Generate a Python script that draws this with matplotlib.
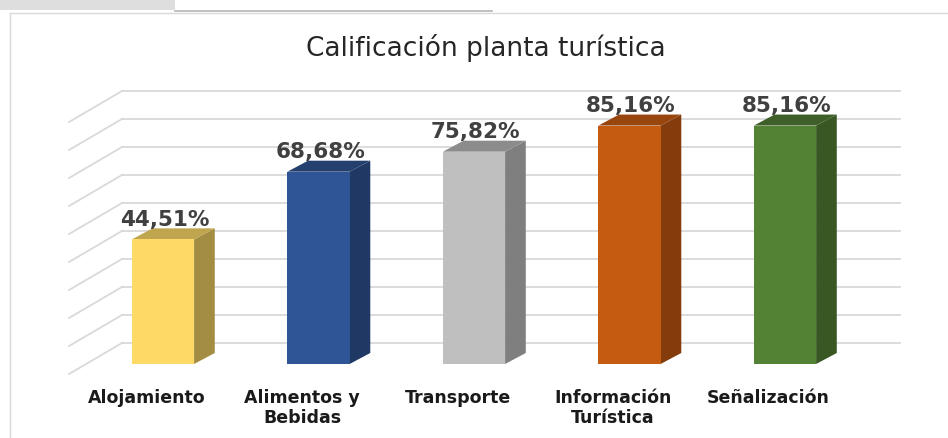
import numpy as np
import matplotlib.pyplot as plt
from matplotlib.patches import Polygon, Rectangle
from matplotlib.lines import Line2D

plt.rcParams['font.family'] = ['DejaVu Sans']

# --- Data ---
categories = ["Alojamiento", "Alimentos y\nBebidas", "Transporte", "Información\nTurística", "Señalización"]
values = [44.51, 68.68, 75.82, 85.16, 85.16]
front_colors = ["#FFD966", "#2F5597", "#BFBFBF", "#C55A11", "#548235"]
side_colors = ["#A38D42", "#203864", "#7F7F7F", "#843C0C", "#385723"]
top_colors = ["#BFA54E", "#25406F", "#8C8C8C", "#98460E", "#3E5F27"]
grid_ticks = list(range(0, 100, 10))
title = "Calificación planta turística"

# --- Figure / pixel mapping ---
W, H = 948, 438
fig = plt.figure(figsize=(W / 100, H / 100), dpi=100)
ax = fig.add_axes([0, 0, 1, 1])
px_cat, px_unit = 155.5, 2.8      # pixels per category / per value unit
x0, y0 = 163, 364                 # pixel of first bar centre, zero line
ax.set_xlim(-x0 / px_cat, (W - x0) / px_cat)
ax.set_ylim(-(H - y0) / px_unit, y0 / px_unit)
ax.axis('off')

bar_w = 0.4
dep_x, dep_y = 0.133, 3.93        # bar depth offset
wall_y = 7.5                      # back wall offset
wall_left, wall_right = -0.264, 4.74
side_dx, side_dy = -0.34, -11.07  # left wall diagonal

# --- Back wall grid + left diagonals ---
for t in grid_ticks:
    yb = t + wall_y
    ax.plot([wall_left, wall_right], [yb, yb], color="#d9d9d9", lw=1.3, zorder=1)
    ax.plot([wall_left + side_dx, wall_left], [yb + side_dy, yb], color="#d9d9d9", lw=1.3, zorder=1)

# --- 3D-looking bars ---
x = np.arange(len(categories))
ax.bar(x, values, width=bar_w, bottom=0, color=front_colors, zorder=3, linewidth=0)
for i, v in enumerate(values):
    l, r = i - bar_w / 2, i + bar_w / 2
    side = Polygon([(r, 0), (r + dep_x, dep_y), (r + dep_x, v + dep_y), (r, v)],
                   closed=True, facecolor=side_colors[i], edgecolor='none', zorder=2)
    top = Polygon([(l, v), (l + dep_x, v + dep_y), (r + dep_x, v + dep_y), (r, v)],
                  closed=True, facecolor=top_colors[i], edgecolor='none', zorder=2)
    ax.add_patch(side)
    ax.add_patch(top)
    label = f"{v:.2f}".replace('.', ',') + '%'
    ax.text(i + 0.01, v + dep_y + 0.9, label, ha='center', va='baseline',
            fontsize=15.5, fontweight='bold', color="#404040", zorder=4)
    ax.text(i - 0.105, -9.0, categories[i], ha='center', va='top',
            fontsize=12.5, fontweight='bold', color="#1a1a1a", linespacing=1.15)

# --- Title ---
fig.text(486 / W, 1 - 56 / H, title, ha='center', va='baseline',
         fontsize=19, color="#262626")

# --- Frame decorations ---
fig.patches.append(Rectangle((0, 1 - 10 / H), 175 / W, 10 / H, transform=fig.transFigure,
                             facecolor="#dedede", edgecolor='none'))
fig.lines.append(Line2D([175 / W, 492 / W], [1 - 10.5 / H, 1 - 10.5 / H], transform=fig.transFigure,
                        color="#b4b4b4", lw=1.2))
fig.lines.append(Line2D([10 / W, 1], [1 - 12.5 / H, 1 - 12.5 / H], transform=fig.transFigure,
                        color="#d9d9d9", lw=1.0))
fig.lines.append(Line2D([10 / W, 10 / W], [0, 1 - 12.5 / H], transform=fig.transFigure,
                        color="#d9d9d9", lw=1.0))

fig.savefig("out.png", dpi=100)
